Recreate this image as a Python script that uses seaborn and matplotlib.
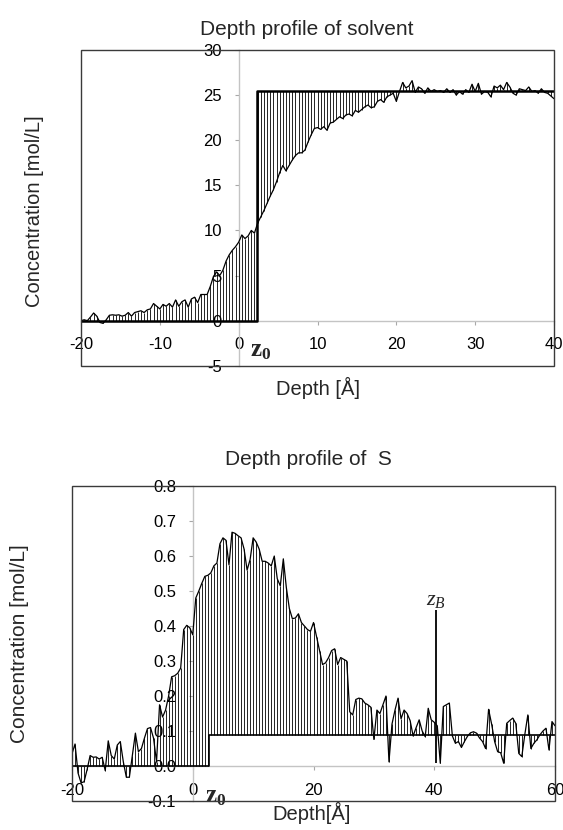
import numpy as np
import matplotlib
matplotlib.use('Agg')
import matplotlib.pyplot as plt
from matplotlib.patches import Rectangle
from matplotlib.ticker import FormatStrFormatter, MultipleLocator
import seaborn as sns

solvent_depth = np.round(-20 + 0.4 * np.arange(151), 1)
solvent_conc = [
    0.0, 0.1, 0.0, 0.4, 0.85, 0.5, -0.2, -0.3, 0.1, 0.6,
    0.65, 0.6, 0.65, 0.5, 0.6, 0.9, 0.5, 0.9, 1.0, 1.1,
    0.9, 1.2, 1.3, 1.9, 1.6, 1.3, 1.8, 1.6, 1.9, 1.5,
    2.3, 1.6, 2.1, 2.3, 1.5, 2.4, 2.6, 2.0, 2.9, 2.9,
    2.9, 3.8, 4.9, 5.4, 5.0, 5.6, 6.6, 7.3, 7.8, 8.2,
    8.7, 9.5, 9.1, 9.4, 10.0, 9.7, 10.8, 11.5, 12.2, 13.0,
    13.8, 14.5, 15.4, 16.4, 17.2, 16.6, 17.2, 17.8, 18.3, 18.6,
    18.6, 18.9, 19.8, 20.6, 21.3, 21.4, 21.2, 21.5, 21.1, 21.9,
    22.0, 22.3, 22.6, 22.4, 22.8, 22.9, 22.7, 23.3, 23.1, 23.4,
    23.7, 23.9, 23.6, 23.7, 24.3, 24.5, 24.2, 24.8, 25.0, 25.2,
    24.3, 25.4, 26.4, 25.8, 26.0, 26.6, 25.3, 25.9, 25.7, 25.2,
    25.8, 25.4, 25.6, 25.4, 25.5, 25.3, 25.7, 25.3, 25.6, 25.0,
    25.4, 25.1, 25.6, 25.3, 26.2, 25.4, 26.3, 25.1, 25.4, 25.3,
    24.8, 26.0, 25.8, 26.1, 25.6, 26.4, 25.9, 25.2, 25.0, 25.7,
    25.6, 25.5, 25.9, 25.4, 25.5, 25.2, 25.7, 25.3, 25.2, 24.9,
    24.6,
]
solvent_z0 = 2.3
solvent_bulk = 25.4

s_depth = np.round(-20 + 0.5 * np.arange(161), 1)
s_conc = [
    0.035, 0.063, -0.02, -0.048, -0.045, -0.01, 0.03, 0.025, 0.026, 0.02,
    0.025, -0.013, 0.072, 0.03, 0.02, 0.06, 0.07, 0.012, -0.032, -0.032,
    0.03, 0.094, 0.041, 0.05, 0.08, 0.107, 0.11, 0.08, 0.012, 0.175,
    0.14, 0.16, 0.2, 0.255, 0.258, 0.265, 0.28, 0.39, 0.402, 0.395,
    0.375, 0.48, 0.5, 0.522, 0.542, 0.545, 0.552, 0.572, 0.58, 0.635,
    0.652, 0.645, 0.575, 0.668, 0.665, 0.658, 0.652, 0.62, 0.56, 0.59,
    0.652, 0.64, 0.62, 0.585, 0.585, 0.58, 0.572, 0.6, 0.535, 0.515,
    0.592, 0.51, 0.45, 0.421, 0.423, 0.435, 0.41, 0.4, 0.39, 0.385,
    0.41, 0.37, 0.33, 0.29, 0.295, 0.31, 0.33, 0.335, 0.29, 0.31,
    0.305, 0.3, 0.155, 0.146, 0.19, 0.194, 0.192, 0.18, 0.175, 0.168,
    0.076, 0.16, 0.15, 0.175, 0.2, 0.012, 0.12, 0.16, 0.194, 0.135,
    0.16, 0.15, 0.13, 0.086, 0.11, 0.132, 0.1, 0.084, 0.165, 0.132,
    0.125, 0.115, 0.008, 0.17, 0.175, 0.18, 0.086, 0.065, 0.07, 0.053,
    0.07, 0.085, 0.095, 0.098, 0.094, 0.08, 0.07, 0.05, 0.162, 0.12,
    0.07, 0.041, 0.038, 0.008, 0.122, 0.13, 0.137, 0.122, 0.036, 0.027,
    0.09, 0.146, 0.05, 0.065, 0.075, 0.089, 0.1, 0.108, 0.046, 0.127,
    0.115,
]
s_z0 = 2.7
s_bulk = 0.088
s_zb = 40.3
s_zb_top = 0.446
s_zb_bottom = 0.008

sns.set_theme(style='white')
plt.rcParams['font.family'] = ['Liberation Sans', 'DejaVu Sans']
plt.rcParams['axes.unicode_minus'] = False
plt.rcParams['mathtext.fontset'] = 'custom'
plt.rcParams['mathtext.rm'] = 'Liberation Serif'
plt.rcParams['mathtext.it'] = 'Liberation Serif:italic'
plt.rcParams['mathtext.bf'] = 'Liberation Serif:bold'

AXIS_GREY = '#c4c4c4'


def draw_profile(ax, depth, conc, z0, bulk, xlim, ylim, step_lw):
    depth = np.asarray(depth)
    conc = np.asarray(conc)
    step_at = np.where(depth < z0, 0.0, bulk)
    # drop lines between the profile and the step model
    ax.vlines(depth, conc, step_at, color='black', linewidth=0.6, zorder=2)
    sns.lineplot(x=depth, y=conc, ax=ax, color='black', linewidth=0.9,
                 estimator=None, sort=False, zorder=3)
    sns.lineplot(x=[xlim[0], z0, z0, xlim[1]], y=[0, 0, bulk, bulk], ax=ax,
                 color='black', linewidth=step_lw, estimator=None, sort=False, zorder=4)
    ax.set_xlim(*xlim)
    ax.set_ylim(*ylim)
    ax.spines['left'].set_position(('data', 0))
    ax.spines['bottom'].set_position(('data', 0))
    ax.spines['top'].set_visible(False)
    ax.spines['right'].set_visible(False)
    for side in ('left', 'bottom'):
        ax.spines[side].set_color(AXIS_GREY)
        ax.spines[side].set_linewidth(1.0)
        ax.spines[side].set_zorder(1)
    ax.add_patch(Rectangle((0, 0), 1, 1, transform=ax.transAxes, fill=False,
                           edgecolor='#3a3a3a', linewidth=1.0, clip_on=False, zorder=6))
    ax.tick_params(axis='both', which='both', bottom=True, left=True, direction='out',
                   length=3, width=0.8, color='#a8a8a8', labelsize=12, pad=9,
                   labelcolor='black')


fig = plt.figure(figsize=(5.63, 8.30), dpi=100)

ax1 = fig.add_axes([0.1439, 0.5593, 0.8401, 0.3805])
draw_profile(ax1, solvent_depth, solvent_conc, solvent_z0, solvent_bulk,
             (-20, 40), (-5, 30), 1.8)
ax1.xaxis.set_major_locator(MultipleLocator(10))
ax1.yaxis.set_major_locator(MultipleLocator(5))
ax1.set_title('Depth profile of solvent', fontsize=15, x=0.478, pad=11)
ax1.set_ylabel('Concentration [mol/L]', fontsize=14.5, va='center')
ax1.yaxis.set_label_coords(-0.098, 0.49)
ax1.set_xlabel('Depth [Å]', fontsize=14.5, va='top')
ax1.xaxis.set_label_coords(0.5, -0.036)
ax1.text(2.85, -3.2, r'$\mathbf{z_0}$', fontsize=18, ha='center', va='center')

ax2 = fig.add_axes([0.1279, 0.0349, 0.8579, 0.3795])
draw_profile(ax2, s_depth, s_conc, s_z0, s_bulk, (-20, 60), (-0.1, 0.8), 1.2)
ax2.xaxis.set_major_locator(MultipleLocator(20))
ax2.yaxis.set_major_locator(MultipleLocator(0.1))
ax2.yaxis.set_major_formatter(FormatStrFormatter('%.1f'))
ax2.set_title('Depth profile of  S', fontsize=15, x=0.489, pad=15)
ax2.set_ylabel('Concentration [mol/L]', fontsize=15, va='center')
ax2.yaxis.set_label_coords(-0.108, 0.5)
ax2.set_xlabel('Depth[Å]', fontsize=14.5, va='top')
ax2.xaxis.set_label_coords(0.497, -0.004)
ax2.text(3.86, -0.087, r'$\mathbf{z_0}$', fontsize=18, ha='center', va='center')
ax2.vlines(s_zb, s_zb_bottom, s_zb_top, color='black', linewidth=1.3, zorder=5)
ax2.text(s_zb, s_zb_top + 0.03, r'$z_B$', fontsize=16, ha='center', va='center')

fig.savefig('out.png', dpi=100)
